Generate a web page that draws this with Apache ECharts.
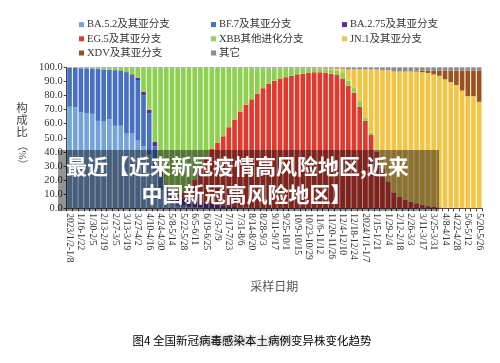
<!DOCTYPE html>
<html><head><meta charset="utf-8">
<script src="https://cdn.jsdelivr.net/npm/echarts@6/dist/echarts.min.js"></script>
<style>html,body{margin:0;padding:0;background:#fff}#c{width:500px;height:363px}</style>
</head><body><div id="c"></div>
<script>
const weeks = ['2023/1/2-1/8','1/9-1/15','1/16-1/22','1/23-1/29','1/30-2/5','2/6-2/12','2/13-2/19','2/20-2/26','2/27-3/5','3/6-3/12',
'3/13-3/19','3/20-3/26','3/27-4/2','4/3-4/9','4/10-4/16','4/17-4/23','4/24-4/30','5/1-5/7','5/8-5/14','5/15-5/21',
'5/22-5/28','5/29-6/4','6/5-6/11','6/12-6/18','6/19-6/25','6/26-7/2','7/3-7/9','7/10-7/16','7/17-7/23','7/24-7/30',
'7/31-8/6','8/7-8/13','8/14-8/20','8/21-8/27','8/28-9/3','9/4-9/10','9/11-9/17','9/18-9/24','9/25-10/1','10/2-10/8',
'10/9-10/15','10/16-10/22','10/23-10/29','10/30-11/5','11/6-11/12','11/13-11/19','11/20-11/26','11/27-12/3','12/4-12/10','12/11-12/17',
'12/18-12/24','12/25-12/31','2024/1/1-1/7','1/8-1/14','1/15-1/21','1/22-1/28','1/29-2/4','2/5-2/11','2/12-2/18','2/19-2/25',
'2/26-3/3','3/4-3/10','3/11-3/17','3/18-3/24','3/25-3/31','4/1-4/7','4/8-4/14','4/15-4/21','4/22-4/28','4/29-5/5',
'5/6-5/12','5/13-5/19','5/20-5/26'];

const ba52 = [72,71.5,68,67.5,67,62,61.5,63,58.5,58.5,53,53,48,44,38,27,13,6,3,1.5,1,0.5,0.3,0.2,
0,0,0,0,0,0,0,0,0,0,0,0,0,0,0,0,0,0,0,0,0,0,0,0,0,0,0,0,0,0,0,0,0,0,0,0,0,0,0,0,0,0,0,0,0,0,0,0,0];
const bf7 = [27.5,28,31.3,31.7,32,36.8,37,35.3,39.5,39,43.5,41,43,36,29.5,17,9,5,3,1.5,1,0.5,0.3,0.2,0.1,0.1,0.1,0.1,
0,0,0,0,0,0,0,0,0,0,0,0,0,0,0,0,0,0,0,0,0,0,0,0,0,0,0,0,0,0,0,0,0,0,0,0,0,0,0,0,0,0,0,0,0];
const ba275 = [0,0,0,0,0,0,0,0,0,0.3,0.5,1,1.5,2.5,2.5,3,3.5,4.5,5,5.5,5,5,4.5,4,3.5,3,2.5,2,1.5,1,0.6,0.4,0.3,0.2,0.2,0.2,
0,0,0,0,0,0,0,0,0,0,0,0,0,0,0,0,0,0,0,0,0,0,0,0,0,0,0,0,0,0,0,0,0,0,0,0,0];
const eg5 = [0,0,0,0,0,0,0,0,0,0,0,0,0,0,0,0,0,0.5,1,2,4,8,15,24,33,39,44,49,56,62,68,73,77,81,85,88,90.5,92,93,94,
95,95.5,96,96.5,96.5,96,95.5,94.5,92,87,82,72,62,52,40,28,19,11,8,6,4.5,3.5,2.5,1.5,1,0.6,0.4,0.3,0.2,0.2,0.1,0.1,0.1];
const xbb = [0,0,0,0,0.2,0.4,0.7,1,1.4,1.7,2.5,4.5,7,17,29.5,52.5,74,83.5,87.5,89,88.5,85.5,79.4,71.1,62.9,57.4,52.9,48.4,42,36.5,
30.9,25.8,21.9,18,14,11,8.7,7.2,6.2,5.2,4.2,3.7,3.2,2.7,2.5,2.6,2.7,3,4,3.5,3.5,4,2,1.5,1,1,0.8,0.6,0.5,0.4,
0.3,0.3,0.2,0.2,0.1,0.1,0.1,0.1,0.1,0.1,0.1,0.1,0.1];
const jn1 = [0,0,0,0,0,0,0,0,0,0,0,0,0,0,0,0,0,0,0,0,0,0,0,0,0,0,0,0,0,0,0,0,0,0,0,0,0,0,0,0,0,0,0,0,
0.2,0.4,0.8,1.5,3,8,13,22.5,34.5,45,57.5,69,78.2,85.4,88.5,90.6,92.2,93.2,93.8,94.3,93.9,93.3,91,89.1,87.2,83.2,79.3,79.3,75.3];
const xdv = [0,0,0,0,0,0,0,0,0,0,0,0,0,0,0,0,0,0,0,0,0,0,0,0,0,0,0,0,0,0,0,0,0,0,0,0,0,0,0,0,0,0,0,0,0,0,0,0,0,0,
0,0,0,0,0,0,0,0,0,0,0,0.5,1,1.5,2.5,3.5,6,8,10,14,18,18,22];
const other = [0.5,0.5,0.7,0.8,0.8,0.8,0.8,0.7,0.6,0.5,0.5,0.5,0.5,0.5,0.5,0.5,0.5,0.5,0.5,0.5,0.5,0.5,0.5,0.5,0.5,0.5,0.5,0.5,0.5,0.5,0.5,
0.8,0.8,0.8,0.8,0.8,0.8,0.8,0.8,0.8,0.8,0.8,0.8,0.8,0.8,1,1,1,1,1.5,1.5,1.5,1.5,1.5,1.5,2,2,3,3,3,3,2.5,2.5,2.5,2.5,2.5,2.5,2.5,2.5,2.5,2.5,2.5,2.5];

const names = ['BA.5.2及其亚分支','BF.7及其亚分支','BA.2.75及其亚分支','EG.5及其亚分支','XBB其他进化分支','JN.1及其亚分支','XDV及其亚分支','其它'];
const colors = ['#74a3da','#4770c3','#5d2f91','#e2392e','#8ed150','#f3c545','#9a521f','#8c8c8c'];
const values = [ba52, bf7, ba275, eg5, xbb, jn1, xdv, other];
const yTicks = {min: 0, max: 100, step: 10};
const xName = '采样日期';
const yName = '构成比';
const caption = ['图4 全国新冠', '病毒感染本土病例', '变异株变化趋势'];
const overlayLines = ['最近【近来新冠疫情高风险地区,近来', '中国新冠高风险地区】'];

const serif = "'Liberation Serif','Noto Sans CJK SC'";
const chart = echarts.init(document.getElementById('c'), null, {renderer: 'canvas'});

function legendCol(left, data) {
  return {
    orient: 'vertical', left: left, top: 12.5, itemWidth: 5, itemHeight: 5, itemGap: 0,
    icon: 'rect', data: data, selectedMode: false,
    textStyle: {fontFamily: serif, fontSize: 10.5, color: '#333', lineHeight: 14.2, padding: [0,0,0,-2]}
  };
}

const option = {
  animation: false,
  color: colors,
  legend: [
    legendCol(74, [names[0], names[3], names[6]]),
    legendCol(206, [names[1], names[4], names[7]]),
    legendCol(337, [names[2], names[5]])
  ],
  grid: {left: 66.7, right: 18, top: 67.3, bottom: 154.7, containLabel: false},
  xAxis: {
    type: 'category', data: weeks,
    axisLine: {show: true, lineStyle: {color: '#444', width: 1}},
    axisTick: {show: true, interval: 0, length: 3, lineStyle: {color: '#444'}},
    axisLabel: {interval: 1, rotate: -90, fontFamily: serif, fontSize: 9.5, color: '#333', margin: 5},
    name: xName, nameLocation: 'middle', nameGap: 74,
    nameTextStyle: {fontFamily: serif, fontSize: 12, color: '#555'}
  },
  yAxis: {
    type: 'value', min: yTicks.min, max: yTicks.max, interval: yTicks.step,
    splitLine: {show: false},
    axisLine: {show: true, lineStyle: {color: '#444', width: 1}},
    axisTick: {show: true, length: 3, lineStyle: {color: '#444'}},
    axisLabel: {formatter: v => v.toFixed(1), fontFamily: serif, fontSize: 10.5, color: '#333', margin: 4}
  },
  series: values.map((v, i) => ({
    name: names[i], type: 'bar', stack: 'total', data: v,
    barCategoryGap: '18%', itemStyle: {color: colors[i]}
  })),
  graphic: [
    {type: 'text', x: 22, y: 103, z: 100,
     style: {text: yName.split('').join('\n'), font: "11.5px " + serif, fill: '#444', textAlign: 'center', lineHeight: 11.8}},
    {type: 'text', x: 22, y: 155, rotation: -Math.PI / 2, z: 100,
     style: {text: '（%）', font: "10.5px " + serif, fill: '#444', textAlign: 'center', textVerticalAlign: 'middle'}},
    {type: 'rect', z: 100, shape: {x: 58, y: 150, width: 381, height: 61},
     style: {fill: 'rgba(0,0,0,0.42)'}},
    {type: 'text', x: 66, y: 166.5, z: 101,
     style: {text: overlayLines[0], font: "bold 21px 'Noto Sans CJK SC'", fill: '#fff', textAlign: 'left', textVerticalAlign: 'middle'}},
    {type: 'text', x: 141.5, y: 194.5, z: 101,
     style: {text: overlayLines[1], font: "bold 21px 'Noto Sans CJK SC'", fill: '#fff', textAlign: 'left', textVerticalAlign: 'middle'}},
    {type: 'text', x: 252, y: 341, z: 100,
     style: {
       text: '{a|' + caption[0] + '}{b|' + caption[1] + '}{a|' + caption[2] + '}',
       textAlign: 'center', textVerticalAlign: 'middle',
       rich: {
         a: {fontFamily: "'Noto Sans CJK SC'", fontSize: 11.5, color: '#333'},
         b: {fontFamily: "'Noto Sans CJK SC'", fontSize: 11.5, color: 'rgba(140,140,140,0.55)',
             textShadowColor: 'rgba(110,110,110,0.7)', textShadowBlur: 4}
       }
     }}
  ]
};
chart.setOption(option);
</script>
</body></html>
